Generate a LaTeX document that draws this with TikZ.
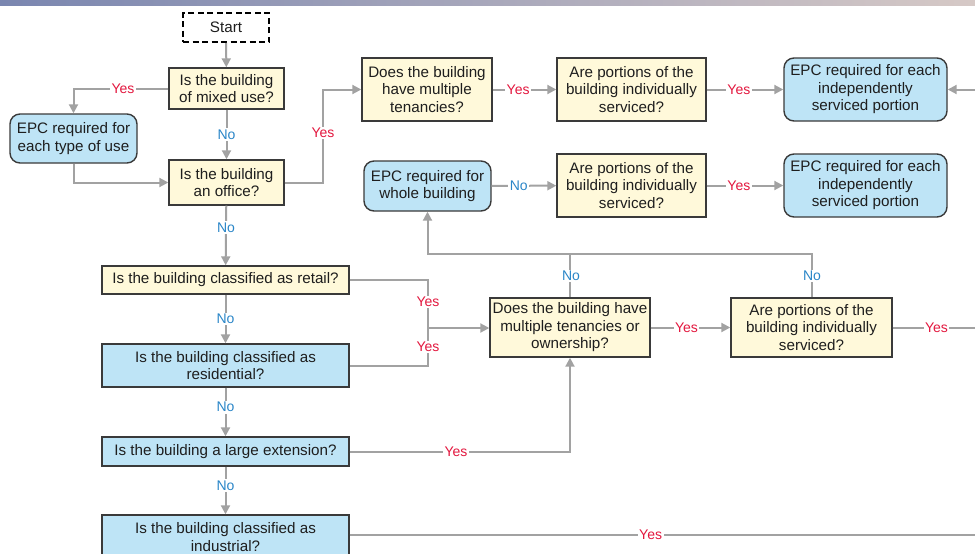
\documentclass[tikz,border=0pt]{standalone}
\usepackage{fontspec}
\setmainfont{Liberation Sans}
\usetikzlibrary{arrows.meta,positioning,calc}
\definecolor{qyellow}{HTML}{FFF9DA}
\definecolor{qblue}{HTML}{BEE4F6}
\definecolor{edgegray}{HTML}{A2A2A2}
\definecolor{boxline}{HTML}{3A3A3A}
\definecolor{yesred}{HTML}{E3173E}
\definecolor{noblue}{HTML}{2A86C8}
\definecolor{txt}{HTML}{1E1E1E}
\definecolor{hdrL}{HTML}{7A86B0}
\definecolor{hdrR}{HTML}{D6C9C6}
\tikzset{
  base/.style={draw=boxline, line width=1.4pt, align=center, text=txt, inner sep=2pt,
     font=\fontsize{15.2}{17.5}\selectfont},
  ybox/.style={base, fill=qyellow},
  bbox/.style={base, fill=qblue},
  rbox/.style={base, fill=qblue, rounded corners=10pt},
  startbox/.style={base, draw=black, line width=2pt, dash pattern=on 6pt off 3.5pt, fill=white},
  conn/.style={draw=edgegray, line width=2pt},
  arr/.style={conn, -{Triangle[length=9pt,width=9pt]}},
  yes/.style={fill=white, text=yesred, inner sep=1.5pt, font=\fontsize{14}{15}\selectfont},
  no/.style={fill=white, text=noblue, inner sep=1.5pt, font=\fontsize{14}{15}\selectfont},
}
\begin{document}
\begin{tikzpicture}[x=1pt,y=-1pt]
\useasboundingbox (0,0) rectangle (975,554);
\clip (0,0) rectangle (975,554);
\shade[left color=hdrL, right color=hdrR] (0,0) rectangle (975,5);

% nodes
\node[startbox, minimum width=86, minimum height=29] (start) at (226,27.5) {Start};
\node[ybox, minimum width=115, minimum height=41] (mixed) at (226.5,88.5) {Is the building\\of mixed use?};
\node[rbox, minimum width=127, minimum height=49] (typeuse) at (73.5,138.5) {EPC required for\\each type of use};
\node[ybox, minimum width=115, minimum height=45] (office) at (226.5,182.5) {Is the building\\an office?};
\node[ybox, minimum width=130, minimum height=63] (ten1) at (427,89.5) {Does the building\\have multiple\\tenancies?};
\node[ybox, minimum width=149, minimum height=63] (por1) at (631.5,89.5) {Are portions of the\\building individually\\serviced?};
\node[rbox, minimum width=163, minimum height=63] (epc1) at (865.5,89.5) {EPC required for each\\independently\\serviced portion};
\node[rbox, minimum width=127, minimum height=50] (whole) at (427.5,186) {EPC required for\\whole building};
\node[ybox, minimum width=149, minimum height=63] (por2) at (631.5,185.5) {Are portions of the\\building individually\\serviced?};
\node[rbox, minimum width=163, minimum height=63] (epc2) at (865.5,185.5) {EPC required for each\\independently\\serviced portion};
\node[ybox, minimum width=247, minimum height=28] (retail) at (225.5,280) {Is the building classified as retail?};
\node[bbox, minimum width=247, minimum height=43] (resid) at (225.5,365.5) {Is the building classified as\\residential?};
\node[ybox, minimum width=160, minimum height=59] (ten2) at (570,327.5) {Does the building have\\multiple tenancies or\\ownership?};
\node[ybox, minimum width=161, minimum height=59] (por3) at (811.5,327.5) {Are portions of the\\building individually\\serviced?};
\node[bbox, minimum width=247, minimum height=29] (ext) at (225.5,451.5) {Is the building a large extension?};
\node[bbox, minimum width=247, minimum height=44] (indus) at (225.5,537) {Is the building classified as\\industrial?};

% helper coordinates
\coordinate (rin1) at (990,89.5);
\coordinate (rout3) at (990,327.5);
\coordinate (rout4) at (990,537);
\coordinate (jx) at (428,328);
\coordinate (hy) at (0,254);
\coordinate (ox) at (323,0);
\coordinate (ex) at (570,0);

% connectors
\draw[arr] (start) -- (mixed);
\draw[arr] (mixed) -- node[no]{No} (office);
\draw[arr] (mixed.west) -| (typeuse.north);
\node[yes] at (123,88.5) {Yes};
\draw[arr] (typeuse.south) |- (office.west);
\draw[arr] (office.east) -- (office.east -| ox) -- (ten1.west -| ox) -- (ten1.west);
\node[yes] at (323,133) {Yes};
\draw[arr] (ten1) -- node[yes, pos=0.4]{Yes} (por1);
\draw[arr] (por1) -- node[yes, pos=0.42]{Yes} (epc1);
\draw[arr] (rin1) -- (epc1.east);
\draw[arr] (whole) -- node[no, pos=0.42]{No} (por2);
\draw[arr] (por2) -- node[yes, pos=0.42]{Yes} (epc2);
\draw[arr] (office) -- node[no, pos=0.37]{No} (retail);
\draw[arr] (retail) -- node[no]{No} (resid);
\draw[arr] (resid) -- node[no, pos=0.4]{No} (ext);
\draw[arr] (ext) -- node[no, pos=0.4]{No} (indus);
\draw[conn] (retail.east) -- (retail.east -| jx) -- (resid.east -| jx) -- (resid.east);
\draw[arr] (jx) -- (ten2.west |- jx);
\node[yes] at (428,302) {Yes};
\node[yes] at (428,347) {Yes};
\draw[arr] (ten2.north) -- (ten2.north |- hy) -- (whole.south |- hy) -- (whole.south);
\draw[conn] (por3.north) -- (por3.north |- hy) -- (ten2.north |- hy);
\node[no] at (571,276) {No};
\node[no] at (812,276) {No};
\draw[arr] (ten2) -- node[yes, pos=0.45]{Yes} (por3);
\draw[conn] (por3.east) -- node[yes, pos=0.45]{Yes} (rout3);
\draw[arr] (ext.east) -- (ext.east -| ex) -- (ten2.south);
\node[yes] at (456,451.5) {Yes};
\draw[conn] (indus.east |- 0,535) -- node[yes, pos=0.47]{Yes} (rout4 |- 0,535);
\end{tikzpicture}
\end{document}
